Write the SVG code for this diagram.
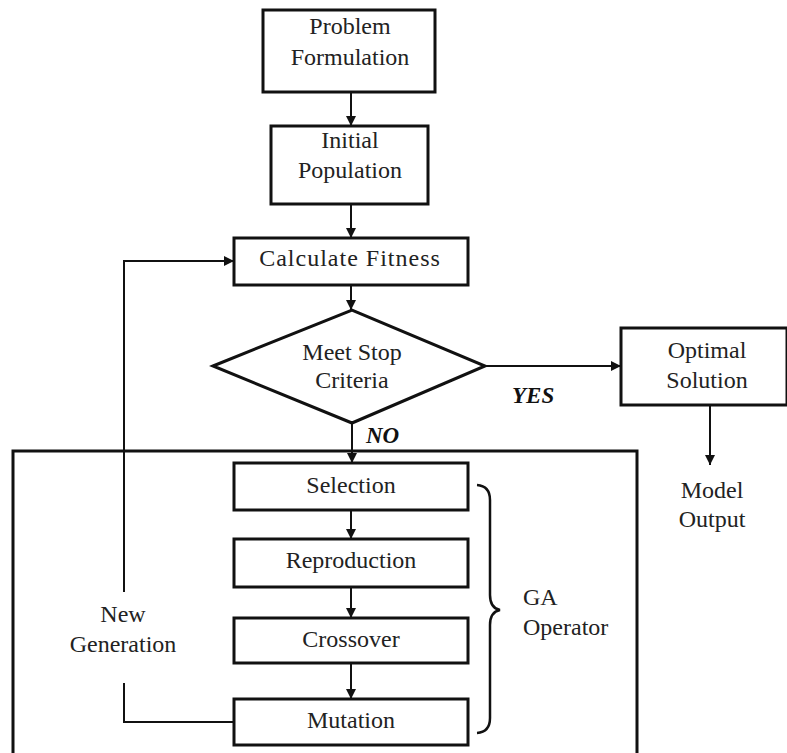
<svg xmlns="http://www.w3.org/2000/svg" width="787" height="753" viewBox="0 0 787 753">
<style>
.box{fill:#fff;stroke:#111;stroke-width:3}
.t{font-family:'Liberation Serif','DejaVu Serif',serif;font-size:24px;fill:#222;text-anchor:middle}
.tl{font-family:'Liberation Serif','DejaVu Serif',serif;font-size:24px;fill:#222}
.lab{font-family:'Liberation Serif','DejaVu Serif',serif;font-size:23px;font-weight:bold;font-style:italic;fill:#111}
.c{fill:none;stroke:#111;stroke-width:2}
</style>
<defs>
<marker id="ah" viewBox="0 0 10 10" refX="10" refY="5" markerWidth="10" markerHeight="10" markerUnits="userSpaceOnUse" orient="auto">
<path d="M0,0 L10,5 L0,10 Z" fill="#111"/>
</marker>
</defs>
<rect width="787" height="753" fill="#fff"/>
<g id="ga-frame">
<path d="M13,760 V451 H637 V760" fill="none" stroke="#111" stroke-width="3"/>
</g>
<g id="connectors">
<line class="c" x1="351" y1="92" x2="351" y2="126" marker-end="url(#ah)"/>
<line class="c" x1="351" y1="204" x2="351" y2="238" marker-end="url(#ah)"/>
<line class="c" x1="351" y1="285" x2="351" y2="310" marker-end="url(#ah)"/>
<line class="c" x1="352" y1="423" x2="352" y2="463" marker-end="url(#ah)"/>
<line class="c" x1="351" y1="510" x2="351" y2="539" marker-end="url(#ah)"/>
<line class="c" x1="351" y1="587" x2="351" y2="618" marker-end="url(#ah)"/>
<line class="c" x1="351" y1="663" x2="351" y2="699" marker-end="url(#ah)"/>
<line class="c" x1="485" y1="366" x2="621" y2="366" marker-end="url(#ah)"/>
<line class="c" x1="710" y1="405" x2="710" y2="465" marker-end="url(#ah)"/>
<path class="c" d="M234,722 H124 V683" stroke-width="3"/>
<path class="c" d="M124,592 V261 H234" stroke-width="3" marker-end="url(#ah)"/>
</g>
<g id="problem-formulation">
<rect class="box" x="263" y="10" width="172" height="82"/>
<text class="t" x="350" y="34">Problem</text>
<text class="t" x="350" y="65">Formulation</text>
</g>
<g id="initial-population">
<rect class="box" x="271" y="126" width="157" height="78"/>
<text class="t" x="350" y="148">Initial</text>
<text class="t" x="350" y="178">Population</text>
</g>
<g id="calculate-fitness">
<rect class="box" x="234" y="238" width="234" height="47"/>
<text class="t" x="350" y="266" letter-spacing="1">Calculate Fitness</text>
</g>
<g id="meet-stop">
<polygon points="213,366 352,310 485,366 352,423" fill="#fff" stroke="#111" stroke-width="3"/>
<text class="t" x="352" y="360">Meet Stop</text>
<text class="t" x="352" y="388">Criteria</text>
</g>
<g id="labels">
<text class="lab" x="512" y="403">YES</text>
<text class="lab" x="366" y="443">NO</text>
</g>
<g id="optimal-solution">
<rect class="box" x="621" y="328" width="166" height="77"/>
<text class="t" x="707" y="358">Optimal</text>
<text class="t" x="707" y="388">Solution</text>
</g>
<g id="model-output">
<text class="t" x="712" y="498">Model</text>
<text class="t" x="712" y="527">Output</text>
</g>
<g id="selection">
<rect class="box" x="234" y="463" width="234" height="47"/>
<text class="t" x="351" y="493">Selection</text>
</g>
<g id="reproduction">
<rect class="box" x="234" y="539" width="234" height="48"/>
<text class="t" x="351" y="568">Reproduction</text>
</g>
<g id="crossover">
<rect class="box" x="234" y="618" width="234" height="45"/>
<text class="t" x="351" y="647">Crossover</text>
</g>
<g id="mutation">
<rect class="box" x="234" y="699" width="234" height="46"/>
<text class="t" x="351" y="728">Mutation</text>
</g>
<g id="new-generation">
<text class="t" x="123" y="622">New</text>
<text class="t" x="123" y="652">Generation</text>
</g>
<g id="ga-operator">
<path d="M477,485 Q490,486 490,500 V595 Q490,608 500,610 Q490,612 490,625 V718 Q490,732 477,733" fill="none" stroke="#111" stroke-width="2.5"/>
<text class="tl" x="523" y="605">GA</text>
<text class="tl" x="523" y="635">Operator</text>
</g>
</svg>
